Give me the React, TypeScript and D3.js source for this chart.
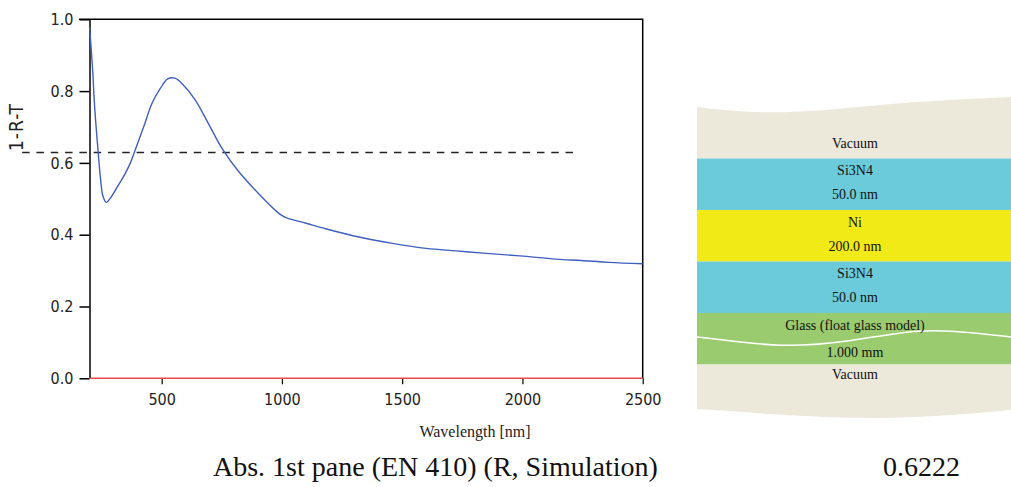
import React, { useEffect, useRef } from "react";
import * as d3 from "d3";

// absorption spectrum
const wavelengths = [
  200, 212, 222, 236, 246, 256, 270, 290, 320, 345, 370, 390, 425, 460, 495,
  525, 555, 590, 640, 690, 755, 825, 990, 1020, 1100, 1185, 1325, 1460,
  1600, 1725, 1850, 1990, 2140, 2245, 2360, 2500,
];
const absorption = [
  0.98, 0.87, 0.75, 0.63, 0.555, 0.507, 0.49, 0.505, 0.538, 0.566, 0.6, 0.636,
  0.7, 0.766, 0.808, 0.834, 0.836, 0.817, 0.775, 0.715, 0.636, 0.572,
  0.458, 0.447, 0.432, 0.416, 0.393, 0.376, 0.362, 0.355, 0.348, 0.341, 0.332,
  0.328, 0.323, 0.319,
];
const zeroLine = [
  [200, 0],
  [2500, 0],
];
const meanValue = 0.6222;
const dashLevel = 0.629; // where the dashed line sits in the picture
const dashRange = [-80, 2210];

const xTicks = [500, 1000, 1500, 2000, 2500];
const yTicks = [0, 0.2, 0.4, 0.6, 0.8, 1.0];

// layer stack
const layerNames = ["Vacuum", "Si3N4", "Ni", "Si3N4", "Glass (float glass model)", "Vacuum"];
const layerThickness = ["", "50.0 nm", "200.0 nm", "50.0 nm", "1.000 mm", ""];
const layerColor = {
  Vacuum: "#ECE9DB",
  Si3N4: "#6BCBDA",
  Ni: "#F2EA17",
  "Glass (float glass model)": "#9ACB6E",
};

const W = 1011,
  H = 487;
const tickFont = "'DejaVu Sans Condensed', 'Liberation Sans', sans-serif";

const App = () => {
  const ref = useRef(null);

  useEffect(() => {
    const svg = d3.select(ref.current);
    svg.selectAll("*").remove();

    const x = d3.scaleLinear().domain([200, 2500]).range([89.5, 642.7]);
    const y = d3.scaleLinear().domain([0, 1]).range([378.3, 19.3]);

    // frame: top and right
    svg
      .append("path")
      .attr("d", `M79,${y(1)}H${x(2500)}V${y(0)}`)
      .attr("fill", "none")
      .attr("stroke", "#000")
      .attr("stroke-width", 1.5);

    const yAxis = svg
      .append("g")
      .attr("transform", `translate(${x(200)},0)`)
      .call(
        d3
          .axisLeft(y)
          .tickValues(yTicks)
          .tickFormat(d3.format(".1f"))
          .tickSize(10)
          .tickSizeOuter(0)
          .tickPadding(6)
      );
    yAxis.selectAll("path,line").attr("stroke", "#000").attr("stroke-width", 1.5);
    yAxis
      .selectAll("text")
      .attr("font-family", tickFont)
      .attr("font-size", 16)
      .attr("fill", "#222");

    const xAxis = svg
      .append("g")
      .attr("transform", `translate(0,${y(0)})`)
      .call(
        d3
          .axisBottom(x)
          .tickValues(xTicks)
          .tickFormat(d3.format("d"))
          .tickSize(6)
          .tickSizeOuter(0)
          .tickPadding(9)
      );
    xAxis.select(".domain").remove();
    xAxis.selectAll("line").attr("stroke", "#000").attr("stroke-width", 1.2);
    xAxis
      .selectAll("text")
      .attr("font-family", tickFont)
      .attr("font-size", 16)
      .attr("fill", "#222");

    // red baseline
    svg
      .append("path")
      .attr("d", d3.line().x((d) => x(d[0])).y((d) => y(d[1]))(zeroLine))
      .attr("stroke", "#F04848")
      .attr("stroke-width", 1.6)
      .attr("fill", "none");

    // dashed level line
    svg
      .append("line")
      .attr("x1", x(dashRange[0]))
      .attr("x2", x(dashRange[1]))
      .attr("y1", y(dashLevel))
      .attr("y2", y(dashLevel))
      .attr("stroke", "#222")
      .attr("stroke-width", 1.5)
      .attr("stroke-dasharray", "7.5,6.8");

    const line = d3
      .line()
      .x((d) => x(d[0]))
      .y((d) => y(d[1]))
      .curve(d3.curveCatmullRom.alpha(0.5));
    svg
      .append("path")
      .attr("d", line(wavelengths.map((w, i) => [w, absorption[i]])))
      .attr("fill", "none")
      .attr("stroke", "#3F5FBF")
      .attr("stroke-width", 1.4);

    svg
      .append("text")
      .attr("transform", `translate(23,127) rotate(-90)`)
      .attr("text-anchor", "middle")
      .attr("font-family", tickFont)
      .attr("font-size", 19)
      .attr("letter-spacing", 1)
      .attr("fill", "#222")
      .text("1-R-T");

    svg
      .append("text")
      .attr("x", 475)
      .attr("y", 437)
      .attr("text-anchor", "middle")
      .attr("font-family", "'Liberation Serif', serif")
      .attr("font-size", 16)
      .attr("fill", "#222")
      .text("Wavelength [nm]");

    // ---- layer stack ----
    const left = 697,
      right = W;
    const band = d3
      .scaleBand()
      .domain(d3.range(layerNames.length))
      .range([107, 416])
      .padding(0);
    const wave = d3.line().curve(d3.curveBasis);
    const topEdge = [
      [left, 107],
      [760, 114],
      [830, 110],
      [920, 101],
      [right, 97],
    ];
    const bottomEdge = [
      [right, 410],
      [930, 417],
      [850, 419],
      [770, 414],
      [left, 409],
    ];
    const st = svg.append("g");
    layerNames.forEach((name, i) => {
      const t = band(i),
        b = t + band.bandwidth();
      let d;
      if (i === 0) {
        d = wave(topEdge) + `L${right},${b}L${left},${b}Z`;
      } else if (i === layerNames.length - 1) {
        d = `M${left},${t}L${right},${t}` + wave(bottomEdge).replace(/^M/, "L") + "Z";
      } else {
        d = `M${left},${t}H${right}V${b}H${left}Z`;
      }
      st.append("path").attr("d", d).attr("fill", layerColor[name]);
    });

    // glass wavy mark
    st.append("path")
      .attr(
        "d",
        wave([
          [left, 337],
          [740, 342],
          [785, 347],
          [850, 342],
          [920, 328],
          [975, 333],
          [right, 337],
        ])
      )
      .attr("stroke", "#fff")
      .attr("stroke-width", 1.5)
      .attr("fill", "none");

    layerNames.forEach((name, i) => {
      const t = band(i);
      const last = i === layerNames.length - 1;
      const ny = i === 0 ? t + 36 : last ? t + 10 : t + 12;
      st.append("text")
        .attr("x", 855)
        .attr("y", ny)
        .attr("dy", "0.35em")
        .attr("text-anchor", "middle")
        .attr("font-family", "'Liberation Serif', serif")
        .attr("font-size", 14)
        .attr("fill", "#111")
        .text(name);
      if (layerThickness[i]) {
        st.append("text")
          .attr("x", 855)
          .attr("y", t + (i === 4 ? 39 : 36))
          .attr("dy", "0.35em")
          .attr("text-anchor", "middle")
          .attr("font-family", "'Liberation Serif', serif")
          .attr("font-size", 14)
          .attr("fill", "#111")
          .text(layerThickness[i]);
      }
    });

    svg
      .append("text")
      .attr("x", 213)
      .attr("y", 476)
      .attr("font-family", "'Liberation Serif', serif")
      .attr("font-size", 28)
      .attr("fill", "#111")
      .text("Abs. 1st pane (EN 410) (R, Simulation)");
    svg
      .append("text")
      .attr("x", 883)
      .attr("y", 476)
      .attr("font-family", "'Liberation Serif', serif")
      .attr("font-size", 28)
      .attr("fill", "#111")
      .text(meanValue.toFixed(4));
  }, []);

  return (
    <svg
      ref={ref}
      width={W}
      height={H}
      style={{ position: "absolute", left: 0, top: 0, background: "#fff" }}
    />
  );
};

export default App;
